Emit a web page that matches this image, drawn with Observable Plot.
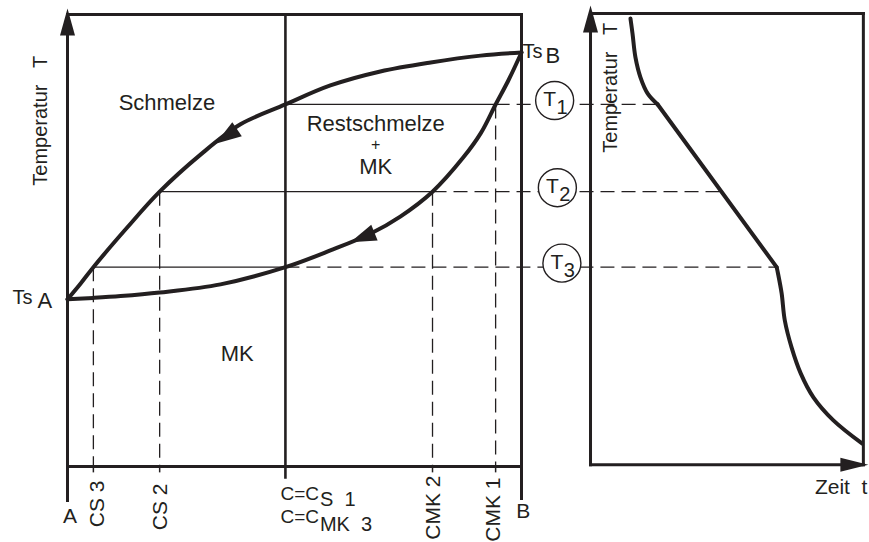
<!DOCTYPE html>
<html><head><meta charset="utf-8">
<script src="https://cdn.jsdelivr.net/npm/d3@7"></script>
<script src="https://cdn.jsdelivr.net/npm/@observablehq/plot@0.6"></script>
<style>
html,body{margin:0;padding:0;background:#fff;}
#chart svg{display:block;}
</style>
</head><body><div id="chart"></div>
<script>
// ---------- data (composition in % B, temperature in arbitrary units, time in arbitrary units) ----------
const liquidusC = [0, 2.9, 5.7, 13.0, 20.3, 29.3, 38.1, 48.0, 57.9, 68.9, 80.0, 91.0, 100];
const liquidusT = [370, 405, 441, 527, 608, 690, 757, 801, 843, 874, 894, 909, 916];
const solidusC = [0, 5.7, 11.7, 20.3, 33.7, 48.0, 57.9, 66.7, 73.3, 80.4, 87.2, 91.0, 94.3, 97.1, 100];
const solidusT = [370, 373, 377, 385, 403, 441, 478, 515, 553, 608, 684, 737, 801, 854, 916];

const levelNames = ["1", "2", "3"];
const levelT = [801, 608, 441];
const meltComp = [48.0, 20.3, 5.7];      // C_S at each level
const crystalComp = [94.3, 80.4, 48.0];  // C_MK at each level
const levelTime = [14.8, 28.8, 41.0];    // where each level meets the cooling curve

const coolTime1 = [8.8, 9.25, 9.9, 11.0, 12.6, 14.8];
const coolTemp1 = [991, 958, 905, 861, 825, 801];
const coolTime2 = [14.8, 41.0];
const coolTemp2 = [801, 441];
const coolTime3 = [41.0, 41.3, 42.1, 42.8, 44.3, 46.3, 49.1, 53.5, 59.8];
const coolTemp3 = [441, 427, 383, 323, 263, 206, 153, 102, 51];

const tickNames = ["A", "CS\u00a03", "CS\u00a02", "CMK\u00a02", "CMK\u00a01", "B"];
const tickComp = [0, 5.7, 20.3, 80.4, 94.3, 100];
const alloyComp = 48.0;

// ---------- layout ----------
const ink = "#231f20";
const font = "'Liberation Sans', Arial, Helvetica, sans-serif";
const tOffset = 115.2;   // x position (composition units) of time = 0
const tEnd = 60.1;
const tx = t => tOffset + t;

function head(len, half) {
  return {draw(ctx) { ctx.moveTo(0, 0); ctx.lineTo(half, len); ctx.lineTo(-half, len); ctx.closePath(); }};
}
const pts = (xs, ys) => xs.map((x, i) => ({x, y: ys[i]}));

const liquidus = pts(liquidusC, liquidusT);
const solidus = pts(solidusC, solidusT);
const cool1 = pts(coolTime1.map(tx), coolTemp1);
const cool2 = pts(coolTime2.map(tx), coolTemp2);
const cool3 = pts(coolTime3.map(tx), coolTemp3);

const levels = levelT.map((T, i) => ({
  name: levelNames[i], T, melt: meltComp[i], crystal: crystalComp[i], end: tx(levelTime[i])
}));

const frame = [
  {x1: 0, y1: -75, x2: 0, y2: 1000},
  {x1: 0, y1: 1000, x2: 100, y2: 1000},
  {x1: 100, y1: -71, x2: 100, y2: 1000},
  {x1: 0, y1: 0, x2: 100, y2: 0},
  {x1: tx(0), y1: 4, x2: tx(0), y2: 1002},
  {x1: tx(0), y1: 1002, x2: tx(tEnd), y2: 1002},
  {x1: tx(tEnd), y1: 4, x2: tx(tEnd), y2: 1002},
  {x1: tx(0), y1: 4, x2: tx(tEnd), y2: 4}
];

const vDashed = [
  {x: meltComp[2], top: levelT[2]},
  {x: meltComp[1], top: levelT[1]},
  {x: crystalComp[1], top: levelT[1]},
  {x: crystalComp[0], top: levelT[0]}
];

const circleX = [107.3, 107.9, 108.9];

const chart = Plot.plot({
  width: 869, height: 542, margin: 0,
  x: {domain: [0, 100], range: [67, 521], axis: null},
  y: {domain: [0, 1000], range: [466, 14], axis: null},
  style: {fontFamily: font, background: "#fff", color: ink},
  marks: [
    // dashed guide lines
    Plot.link(vDashed, {x1: "x", x2: "x", y1: "top", y2: 0, stroke: ink, strokeWidth: 1.3, strokeDasharray: "14,7"}),
    Plot.link(levels, {x1: "crystal", x2: "end", y1: "T", y2: "T", stroke: ink, strokeWidth: 1.3, strokeDasharray: "14,7"}),
    // solid tie lines
    Plot.link(levels, {x1: "melt", x2: "crystal", y1: "T", y2: "T", stroke: ink, strokeWidth: 1.3}),
    // small ticks below the axis
    Plot.link(tickComp.slice(1, 5), {x1: d => d, x2: d => d, y1: 0, y2: -13, stroke: ink, strokeWidth: 1.5}),
    // alloy composition line
    Plot.link([alloyComp], {x1: d => d, x2: d => d, y1: -27, y2: 1000, stroke: ink, strokeWidth: 2.6}),
    // frames
    Plot.link(frame, {x1: "x1", y1: "y1", x2: "x2", y2: "y2", stroke: ink, strokeWidth: 3, strokeLinecap: "square"}),
    // axis arrow heads
    Plot.dot([{x: 0, y: 1013}, {x: tx(0), y: 1020}], {x: "x", y: "y", symbol: head(27, 7.5), fill: ink, stroke: "none"}),
    Plot.dot([{x: tx(61.2), y: 4}], {x: "x", y: "y", symbol: head(28, 7), rotate: 90, fill: ink, stroke: "none"}),
    // liquidus / solidus
    Plot.line(liquidus, {x: "x", y: "y", curve: "catmull-rom", stroke: ink, strokeWidth: 4}),
    Plot.line(solidus, {x: "x", y: "y", curve: "catmull-rom", stroke: ink, strokeWidth: 4}),
    Plot.dot([{x: 32.6, y: 714}], {x: "x", y: "y", symbol: head(26, 8.5), rotate: 236, fill: ink, stroke: "none"}),
    Plot.dot([{x: 62.3, y: 496}], {x: "x", y: "y", symbol: head(26, 8.5), rotate: 248, fill: ink, stroke: "none"}),
    // cooling curve
    Plot.line(cool1, {x: "x", y: "y", curve: "catmull-rom", stroke: ink, strokeWidth: 4, strokeLinecap: "round"}),
    Plot.line(cool2, {x: "x", y: "y", stroke: ink, strokeWidth: 4, strokeLinecap: "round"}),
    Plot.line(cool3, {x: "x", y: "y", curve: "catmull-rom", stroke: ink, strokeWidth: 4, strokeLinecap: "round"}),
    // level circles
    Plot.dot(levels, {x: (d, i) => circleX[i], y: "T", dy: -4, r: 19, fill: "#fff", stroke: ink, strokeWidth: 1.4}),
    Plot.text(levels, {x: (d, i) => circleX[i], y: "T", text: () => "T", dy: -5, dx: -5, fontSize: 21, fill: ink}),
    Plot.text(levels, {x: (d, i) => circleX[i], y: "T", text: "name", dy: 3, dx: 7.5, fontSize: 20, fill: ink}),
    // region labels
    Plot.text([{t: "Schmelze", x: 21.9, y: 788}, {t: "Restschmelze", x: 67.9, y: 742},
               {t: "MK", x: 67.9, y: 648}, {t: "MK", x: 37.4, y: 234}],
      {x: "x", y: "y", text: "t", fontSize: 22, lineAnchor: "bottom", fill: ink}),
    Plot.text([{t: "+", x: 67.9, y: 712}], {x: "x", y: "y", text: "t", fontSize: 16, lineAnchor: "middle", fill: ink}),
    // axis titles
    Plot.text([{x: -5.9, y: 765}, {x: tx(4.4), y: 838}], {x: "x", y: "y", text: () => "Temperatur\u00a0\u00a0\u00a0T", rotate: -90, fontSize: 20, fill: ink}),
    Plot.text([{x: tx(61.0), y: -60}], {x: "x", y: "y", text: () => "Zeit\u00a0\u00a0t", textAnchor: "end", lineAnchor: "bottom", fontSize: 21, fill: ink}),
    // melting points
    Plot.text([{x: -7.7, y: 360.6}], {x: "x", y: "y", text: () => "Ts", textAnchor: "end", lineAnchor: "bottom", fontSize: 20, fill: ink}),
    Plot.text([{x: -6.6, y: 349.6}], {x: "x", y: "y", text: () => "A", textAnchor: "start", lineAnchor: "bottom", fontSize: 22, fill: ink}),
    Plot.text([{x: 100.2, y: 902.7}], {x: "x", y: "y", text: () => "Ts", textAnchor: "start", lineAnchor: "bottom", fontSize: 20, fill: ink}),
    Plot.text([{x: 105.3, y: 891.6}], {x: "x", y: "y", text: () => "B", textAnchor: "start", lineAnchor: "bottom", fontSize: 22, fill: ink}),
    // composition labels
    Plot.text([{t: tickNames[0], x: 0.55, y: -124}, {t: tickNames[5], x: 100.4, y: -115}],
      {x: "x", y: "y", text: "t", lineAnchor: "bottom", fontSize: 21, fill: ink}),
    Plot.text([{t: tickNames[1], x: 6.5, y: -31}, {t: tickNames[2], x: 20.5, y: -37.6},
               {t: tickNames[3], x: 80.5, y: -20}, {t: tickNames[4], x: 93.8, y: -24.3}],
      {x: "x", y: "y", text: "t", rotate: -90, textAnchor: "end", lineAnchor: "middle", fontSize: 21, fill: ink}),
    Plot.text([{t: "C=C", y: -75}, {t: "C=C", y: -124}],
      {x: () => 46.9, y: "y", text: "t", textAnchor: "start", lineAnchor: "bottom", fontSize: 19, fill: ink}),
    Plot.text([{t: "S\u00a0\u00a01", y: -86.3}, {t: "MK\u00a0\u00a03", y: -141.6}],
      {x: () => 55.6, y: "y", text: "t", textAnchor: "start", lineAnchor: "bottom", fontSize: 20, fill: ink})
  ]
});
document.getElementById("chart").appendChild(chart);
</script>
</body></html>
